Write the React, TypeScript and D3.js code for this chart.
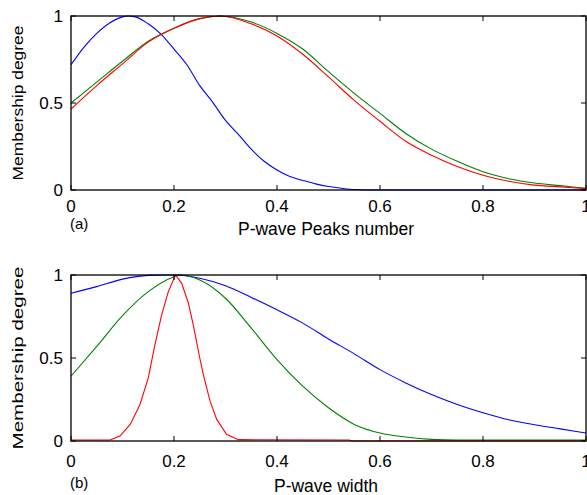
import React from 'react';
import * as d3 from 'd3';

// membership curves, [x, degree]
const peaksBlue = [
  [0, 0.72], [0.025, 0.82], [0.05, 0.9], [0.075, 0.96], [0.1, 0.995], [0.11, 1.0],
  [0.125, 0.995], [0.15, 0.955], [0.175, 0.895], [0.2, 0.81], [0.225, 0.72], [0.25, 0.6],
  [0.275, 0.505], [0.3, 0.4], [0.325, 0.32], [0.35, 0.235], [0.375, 0.165], [0.4, 0.115],
  [0.425, 0.077], [0.45, 0.055], [0.475, 0.035], [0.5, 0.02], [0.525, 0.01], [0.55, 0.003],
  [0.6, 0], [1, 0],
];
const peaksGreen = [
  [0, 0.5], [0.05, 0.62], [0.1, 0.74], [0.15, 0.855], [0.2, 0.93], [0.25, 0.985], [0.29, 1.0],
  [0.35, 0.965], [0.4, 0.9], [0.45, 0.81], [0.5, 0.68], [0.55, 0.555], [0.6, 0.44],
  [0.65, 0.325], [0.7, 0.235], [0.75, 0.165], [0.8, 0.105], [0.85, 0.065], [0.9, 0.04],
  [0.95, 0.025], [1, 0.01],
];
const peaksRed = [
  [0, 0.465], [0.05, 0.6], [0.1, 0.725], [0.15, 0.85], [0.2, 0.93], [0.25, 0.985], [0.29, 1.0],
  [0.35, 0.955], [0.4, 0.885], [0.45, 0.78], [0.5, 0.65], [0.55, 0.515], [0.6, 0.395],
  [0.65, 0.28], [0.7, 0.2], [0.75, 0.135], [0.8, 0.085], [0.85, 0.05], [0.9, 0.028],
  [0.95, 0.018], [1, 0.008],
];

const widthBlue = [
  [0, 0.89], [0.05, 0.93], [0.1, 0.975], [0.15, 0.998], [0.18, 1.0], [0.2, 1.0], [0.25, 0.98],
  [0.3, 0.935], [0.35, 0.865], [0.4, 0.79], [0.45, 0.71], [0.5, 0.615], [0.55, 0.525],
  [0.6, 0.43], [0.65, 0.35], [0.7, 0.28], [0.75, 0.22], [0.8, 0.17], [0.85, 0.128],
  [0.9, 0.098], [0.95, 0.073], [1, 0.048],
];
const widthGreen = [
  [0, 0.39], [0.05, 0.57], [0.1, 0.755], [0.15, 0.9], [0.2, 0.99], [0.21, 1.0], [0.25, 0.97],
  [0.3, 0.86], [0.35, 0.68], [0.4, 0.49], [0.45, 0.33], [0.5, 0.2], [0.55, 0.1], [0.6, 0.048],
  [0.65, 0.024], [0.7, 0.01], [0.75, 0.006], [1, 0.006],
];
const widthRed = [
  [0, 0.006], [0.076, 0.006], [0.095, 0.03], [0.115, 0.1], [0.134, 0.22], [0.15, 0.38],
  [0.163, 0.58], [0.176, 0.76], [0.189, 0.9], [0.203, 1.0], [0.215, 0.95], [0.228, 0.83],
  [0.238, 0.69], [0.25, 0.5], [0.257, 0.4], [0.27, 0.24], [0.283, 0.13], [0.302, 0.04],
  [0.325, 0.008], [0.54, 0.006], [0.545, 0], [1, 0],
];

const xTicks = [0, 0.2, 0.4, 0.6, 0.8, 1];
const xTickLabels = ['0', '0.2', '0.4', '0.6', '0.8', '1'];
const yTicks = [0, 0.5, 1];
const yTickLabels = ['0', '0.5', '1'];

const FONT = '"Liberation Sans", Arial, Helvetica, sans-serif';

const Panel = ({ id, top, bottom, series, tag, xLabel, tickY, tagY, labelY, yLabelLen }) => {
  const x = d3.scaleLinear().domain([0, 1]).range([71, 586]);
  const y = d3.scaleLinear().domain([0, 1]).range([bottom, top]);
  const tl = 5;
  const mid = (top + bottom) / 2;

  return (
    <g>
      <defs>
        <clipPath id={id}>
          <rect x={x(0)} y={top - 1} width={x(1) - x(0)} height={bottom - top + 2} />
        </clipPath>
      </defs>
      <g clipPath={`url(#${id})`}>
        {series.map((s, i) => {
          const line = d3.line()
            .x(d => x(d[0]))
            .y(d => y(d[1]))
            .curve(s.linear ? d3.curveLinear : d3.curveMonotoneX);
          return <path key={i} d={line(s.data)} fill="none" stroke={s.color} strokeWidth={1.1} />;
        })}
      </g>
      {/* ticks on all four sides, pointing in */}
      {xTicks.map(t => (
        <g key={'x' + t} stroke="#000" strokeWidth={1}>
          <line x1={x(t)} x2={x(t)} y1={bottom} y2={bottom - tl} />
          <line x1={x(t)} x2={x(t)} y1={top} y2={top + tl} />
        </g>
      ))}
      {yTicks.map(t => (
        <g key={'y' + t} stroke="#000" strokeWidth={1}>
          <line x1={x(0)} x2={x(0) + tl} y1={y(t)} y2={y(t)} />
          <line x1={x(1)} x2={x(1) - tl} y1={y(t)} y2={y(t)} />
        </g>
      ))}
      <rect x={x(0)} y={top} width={x(1) - x(0)} height={bottom - top} fill="none" stroke="#000" strokeWidth={1.3} />
      <g fontFamily={FONT} fontSize={17} fill="#000">
        {xTicks.map((t, i) => (
          <text key={t} x={x(t)} y={tickY} textAnchor="middle">{xTickLabels[i]}</text>
        ))}
        {yTicks.map((t, i) => (
          <text key={t} x={63} y={y(t)} dy="0.36em" textAnchor="end">{yTickLabels[i]}</text>
        ))}
        <text x={326} y={labelY} textAnchor="middle" fontSize={17.5}>{xLabel}</text>
        <text x={70} y={tagY} fontSize={15}>{tag}</text>
        <text
          transform={`translate(23,${mid}) rotate(-90)`}
          textAnchor="middle"
          fontSize={15}
          textLength={yLabelLen}
          lengthAdjust="spacingAndGlyphs"
        >Membership degree</text>
      </g>
    </g>
  );
};

export default function App() {
  return (
    <svg width={587} height={495} style={{ position: 'absolute', left: 0, top: 0, background: '#fff' }}>
      <rect width={587} height={495} fill="#fff" />
      <Panel
        id="clipA"
        top={16}
        bottom={190}
        series={[
          { data: peaksBlue, color: '#0000ff' },
          { data: peaksGreen, color: '#008000' },
          { data: peaksRed, color: '#ff0000' },
        ]}
        tag="(a)"
        xLabel="P-wave Peaks number"
        tickY={212}
        tagY={229}
        labelY={235}
        yLabelLen={155}
      />
      <Panel
        id="clipB"
        top={275}
        bottom={441}
        series={[
          { data: widthBlue, color: '#0000ff' },
          { data: widthGreen, color: '#008000' },
          { data: widthRed, color: '#ff0000', linear: true },
        ]}
        tag="(b)"
        xLabel="P-wave width"
        tickY={467}
        tagY={488}
        labelY={492}
        yLabelLen={183}
      />
    </svg>
  );
}
